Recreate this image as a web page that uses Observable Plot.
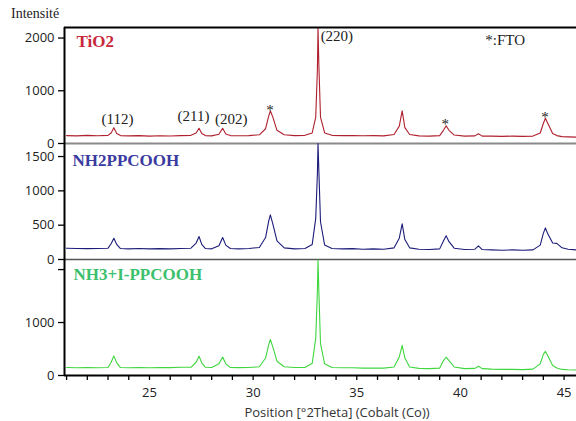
<!DOCTYPE html>
<html><head><meta charset="utf-8">
<script src="https://cdn.jsdelivr.net/npm/d3@7"></script>
<script src="https://cdn.jsdelivr.net/npm/@observablehq/plot@0.6"></script>
<style>
body{margin:0;background:#fff;}
#wrap{position:relative;width:576px;height:421px;overflow:hidden;background:#fff;}
.panel{position:absolute;left:0;}
</style></head><body>
<div id="wrap">
<div style="position:absolute;left:11px;top:6px;font:14px 'Liberation Serif';color:#222;">Intensité</div>
<div class="panel" id="p1" style="top:0px"></div>
<div class="panel" id="p2" style="top:143px"></div>
<div class="panel" id="p3" style="top:259px"></div>
<div style="position:absolute;left:0;width:674px;text-align:center;top:403px;font:13px 'Open Sans';color:#333;white-space:nowrap;">Position [°2Theta] (Cobalt (Co))</div>
</div>
<script>
const positions = [21.0,21.5,22.0,22.5,23.0,23.15,23.28,23.42,23.6,24.0,24.5,25.0,25.5,26.0,26.5,27.0,27.25,27.39,27.52,27.7,28.0,28.35,28.53,28.68,28.9,29.3,29.8,30.3,30.6,30.75,30.83,30.95,31.15,31.5,32.0,32.5,32.85,33.02,33.10,33.13,33.17,33.25,33.45,33.8,34.3,34.8,35.3,35.8,36.3,36.8,37.05,37.19,37.32,37.55,38.0,38.5,39.0,39.18,39.31,39.45,39.7,40.2,40.7,40.87,41.05,41.5,42.0,42.5,43.0,43.5,43.85,44.0,44.1,44.22,44.45,44.65,44.9,45.2,45.6];
const tio2 = [150,145,155,148,155,200,300,190,150,145,150,140,148,142,150,155,200,290,190,150,145,175,290,180,150,148,150,165,280,520,620,500,250,165,150,155,200,500,1400,2200,1500,500,200,155,150,150,148,150,145,170,330,620,300,170,145,140,150,250,335,250,160,140,145,185,140,140,135,140,135,140,200,380,480,380,190,150,130,125,120];
const nh2ppcooh = [165,160,158,160,165,230,310,220,160,155,160,155,158,155,160,165,240,335,220,160,155,200,320,210,160,155,160,175,320,560,650,520,270,170,155,160,220,600,1250,1690,1300,550,210,160,155,158,150,155,150,170,310,520,290,170,150,145,155,270,345,260,165,145,150,200,145,140,135,140,135,140,210,380,460,370,240,235,170,150,140];
const nh3ippcooh = [150,145,150,145,150,250,370,240,150,145,150,145,150,148,155,155,250,365,240,155,150,220,350,220,150,148,150,165,330,580,680,540,270,165,150,150,230,700,1600,2180,1600,600,220,150,145,145,140,140,140,160,350,570,330,160,135,130,140,280,345,280,160,130,135,175,130,120,115,115,110,120,220,400,455,370,190,140,115,108,105];

const seriesNames = ["TiO2", "NH2PPCOOH", "NH3+I-PPCOOH"];
const seriesValues = [tio2, nh2ppcooh, nh3ippcooh];
const lineColors = ["#b0202e", "#1c1c7a", "#3fd63f"];
const labelColors = ["#c8283c", "#3a3aa0", "#3cc06c"];
const yMax = [2200, 1690, 2190];
const yTicks = [[0, 1000, 2000], [0, 500, 1000, 1500], [0, 1000, 2000]];
const yTickLabels = [[0, 1000, 2000], [0, 500, 1000, 1500], [0, 1000]];
const xDomain = [20.9, 45.6];
const xTicks = [21,22,23,24,25,26,27,28,29,30,31,32,33,34,35,36,37,38,39,40,41,42,43,44,45];
const xTickLabels = [25, 30, 35, 40, 45];
const annLabels = ["(112)", "(211)", "(202)", "*", "(220)", "*", "*", "*:FTO"];
const annX = [23.46, 27.12, 28.95, 30.81, 34.04, 39.27, 44.08, 42.16];
const annY = [470, 527, 464, 640, 2028, 373, 506, 1952];

const panelHeights = [143, 116, 162];
const marginsTop = [27, 0, 0];
const marginsBottom = [0, 0, 46];
const labelDx = [12, 8, 9];
const labelDy = [7, 10, 8];
const bottomRule = [{stroke: "#8a8a8a", w: 2}, {stroke: "#555", w: 1.5}, {stroke: "#000", w: 2}];

for (let i = 0; i < 3; i++) {
  const data = positions.map((p, j) => ({x: p, y: seriesValues[i][j]}));
  const labs = yTickLabels[i];
  const marks = [
    Plot.line(data, {x: "x", y: "y", stroke: lineColors[i], strokeWidth: 1.1}),
    Plot.ruleY([0], {stroke: bottomRule[i].stroke, strokeWidth: bottomRule[i].w}),
    Plot.ruleX([xDomain[0]], {stroke: "#000", strokeWidth: 2}),
    Plot.axisY({ticks: yTicks[i], tickSize: 6, tickPadding: 4, label: null, stroke: "#000", strokeWidth: 1.3,
      tickFormat: d => labs.includes(d) ? String(d) : ""}),
    Plot.text([seriesNames[i]], {frameAnchor: "top-left", dx: labelDx[i], dy: labelDy[i], textAnchor: "start", lineAnchor: "top",
      fontFamily: "Liberation Serif", fontWeight: "bold", fontSize: 17, fill: labelColors[i]})
  ];
  if (i === 0) {
    marks.push(Plot.ruleY([yMax[0]], {stroke: "#000", strokeWidth: 2}));
    marks.push(Plot.text(annLabels.map((t, k) => ({t, x: annX[k], y: annY[k]})), {x: "x", y: "y", text: "t",
      fontFamily: "Liberation Serif", fontSize: 15, fill: "#222", textAnchor: "middle", lineAnchor: "middle"}));
  }
  if (i === 2) {
    marks.push(Plot.axisX({ticks: xTicks, tickSize: 5, tickPadding: 7, label: null, stroke: "#000", strokeWidth: 1.3,
      tickFormat: d => xTickLabels.includes(d) ? String(d) : ""}));
  }
  const chart = Plot.plot({
    width: 576, height: panelHeights[i],
    marginLeft: 64, marginRight: 0, marginTop: marginsTop[i], marginBottom: marginsBottom[i],
    style: {fontFamily: "Open Sans", fontSize: "13px", color: "#222", background: "transparent", overflow: "visible"},
    x: {domain: xDomain, axis: null},
    y: {domain: [0, yMax[i]], axis: null},
    marks
  });
  document.getElementById("p" + (i + 1)).appendChild(chart);
}
</script>
</body></html>
